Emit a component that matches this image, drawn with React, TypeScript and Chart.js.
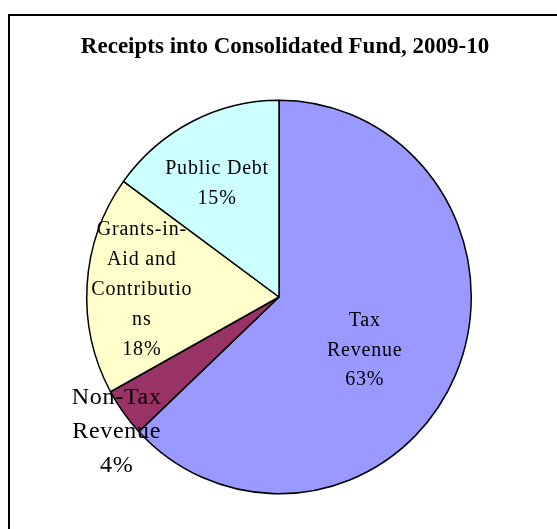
import React, { useEffect, useRef } from "react";
import { Chart, registerables } from "chart.js";

Chart.register(...registerables);

const titleText = "Receipts into Consolidated Fund, 2009-10";
const categories = ["Tax Revenue", "Non-Tax Revenue", "Grants-in-Aid and Contributions", "Public Debt"];
const shares = [63, 4, 18, 15];
const labelLines = [
  ["Tax", "Revenue"],
  ["Non-Tax", "Revenue"],
  ["Grants-in-", "Aid and", "Contributio", "ns"],
  ["Public Debt"],
];
const sliceColors = ["#9999FF", "#993366", "#FFFFCC", "#CCFFFF"];

const FONT = '"Liberation Serif", "Times New Roman", serif';

// label placement styles (radius fraction of outer radius, nudges, font)
const labelStyles = [
  { r: 0.52, dx: -6, dy: 13, size: 20, lh: 29.5, ls: "0.8px" },
  { r: 1.095, dx: 8, dy: 8, size: 24, lh: 34, ls: "0.7px" },
  { r: 0.715, dx: 0, dy: 2, size: 20, lh: 30, ls: "0.8px" },
  { r: 0.675, dx: -3, dy: 5, size: 20, lh: 30, ls: "0.8px" },
];

const Y_STRETCH = 197.5 / 193;

const titlePlugin = {
  id: "customTitle",
  afterDraw(chart: any) {
    const ctx = chart.ctx;
    ctx.save();
    ctx.font = `bold 23px ${FONT}`;
    ctx.fillStyle = "#000";
    ctx.textAlign = "center";
    ctx.textBaseline = "alphabetic";
    ctx.fillText(titleText, 285, 53);
    ctx.restore();
  },
};

const sliceLabelPlugin = {
  id: "sliceLabels",
  beforeDatasetsDraw(chart: any) {
    const ctx = chart.ctx;
    const a = chart.chartArea;
    const cx = (a.left + a.right) / 2;
    const cy = (a.top + a.bottom) / 2;
    ctx.save();
    ctx.translate(cx, cy);
    ctx.scale(1, Y_STRETCH);
    ctx.translate(-cx, -cy);
  },
  afterDatasetsDraw(chart: any) {
    const ctx = chart.ctx;
    ctx.restore();
    const meta = chart.getDatasetMeta(0);
    const data = chart.data.datasets[0].data as number[];
    const total = data.reduce((a, b) => a + b, 0);
    meta.data.forEach((arc: any, i: number) => {
      const { x, y, startAngle, endAngle, outerRadius } = arc.getProps(
        ["x", "y", "startAngle", "endAngle", "outerRadius"],
        true
      );
      const st = labelStyles[i];
      const mid = (startAngle + endAngle) / 2;
      const cx = x + Math.cos(mid) * outerRadius * st.r + st.dx;
      const cy = y + Math.sin(mid) * outerRadius * st.r * Y_STRETCH + st.dy;
      const lines = [...labelLines[i], Math.round((data[i] / total) * 100) + "%"];
      ctx.save();
      ctx.font = `${st.size}px ${FONT}`;
      (ctx as any).letterSpacing = st.ls;
      ctx.fillStyle = "#000";
      ctx.textAlign = "center";
      ctx.textBaseline = "middle";
      lines.forEach((ln, k) => {
        ctx.fillText(ln, cx, cy + (k - (lines.length - 1) / 2) * st.lh);
      });
      ctx.restore();
    });
  },
};

export default function App() {
  const ref = useRef<HTMLCanvasElement | null>(null);
  useEffect(() => {
    document.body.style.margin = "0";
    document.body.style.overflow = "hidden";
    const chart = new Chart(ref.current as HTMLCanvasElement, {
      type: "pie",
      data: {
        labels: categories,
        datasets: [
          {
            data: shares,
            backgroundColor: sliceColors,
            borderColor: "#000",
            borderWidth: 1.5,
          },
        ],
      },
      options: {
        responsive: false,
        animation: false,
        layout: { padding: { left: 86, right: 85, top: 104, bottom: 39 } },
        plugins: {
          legend: { display: false },
          tooltip: { enabled: false },
          title: { display: false },
        },
      },
      plugins: [titlePlugin, sliceLabelPlugin],
    });
    return () => chart.destroy();
  }, []);
  return (
    <div style={{ position: "relative", width: 557, height: 529, overflow: "hidden", background: "#fff" }}>
      <div
        style={{
          position: "absolute",
          left: 8,
          top: 14,
          width: 700,
          height: 700,
          borderTop: "2px solid #000",
          borderLeft: "2px solid #000",
        }}
      />
      <canvas ref={ref} width={557} height={529} style={{ position: "absolute", left: 0, top: 0 }} />
    </div>
  );
}
